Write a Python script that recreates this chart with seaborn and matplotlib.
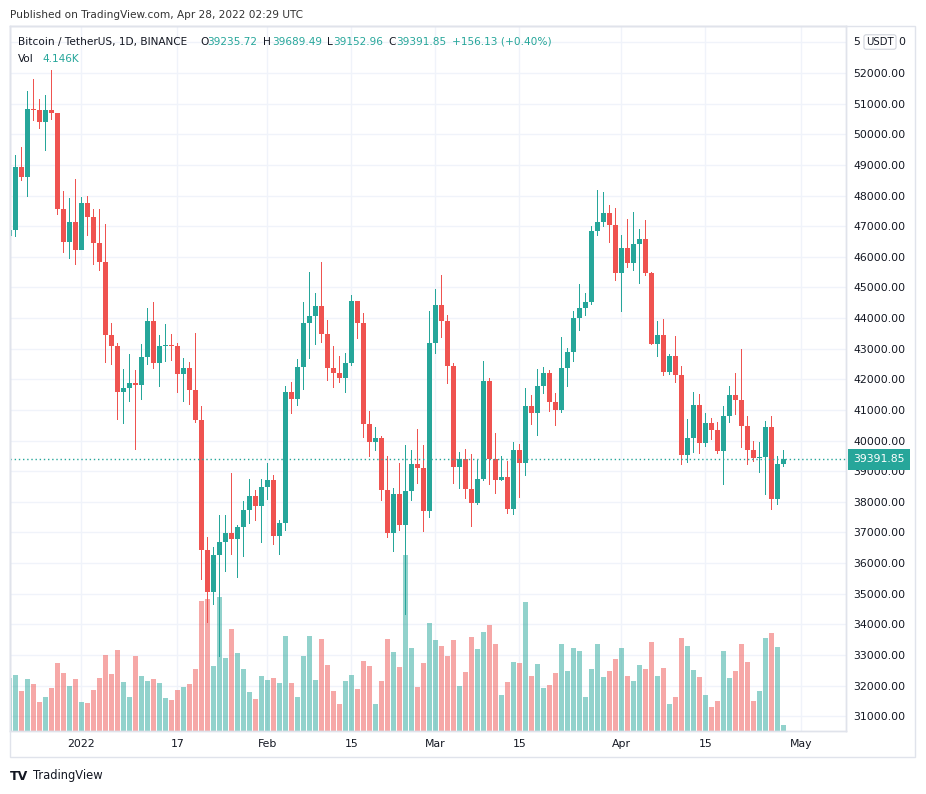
import numpy as np
import pandas as pd
import matplotlib
matplotlib.use("Agg")
import matplotlib.pyplot as plt
import matplotlib.transforms as mtransforms
from matplotlib.patches import Rectangle
import seaborn as sns

# BTC/USDT daily candles, 2021-12-20 .. 2022-04-28
dates = pd.date_range("2021-12-20", "2022-04-28", freq="D")

opens = [46680, 46880, 48920, 48600, 50830, 50800, 50390, 50800, 50680, 47550, 46470, 47150,
         46210, 47740, 47290, 46440, 45820, 43440, 43080, 41580, 41700, 41890, 41830, 42740,
         43900, 42540, 43080, 43110, 43090, 42180, 42370, 41660, 40680, 36440, 35070, 36260,
         36690, 36980, 36800, 37180, 37730, 38190, 37870,
         38480, 38710, 36890, 37320, 41580, 41370, 42400, 43840, 44060, 44390, 43490, 42380,
         42210, 42050, 42530, 44550, 43850, 40530, 39960, 40080, 38400, 36990, 38250, 37250,
         38350, 39230, 39120, 37710,
         43180, 44420, 43890, 42450, 39150, 39400, 38430, 37970, 38730, 41940, 39400, 38720,
         38810, 37780, 39690, 39280, 41130, 40910, 41780, 42200, 41270, 41010, 42370, 42890,
         44000, 44320, 44520, 46840, 47130, 47420, 47040,
         45480, 46280, 45800, 46410, 46580, 45480, 43160, 43450, 42240, 42760, 42150, 39530,
         40090, 41150, 39930, 40560, 40360, 39670, 40790, 41500, 41330, 40480, 39700, 39440,
         39460, 40430, 38100, 39235.72]
highs = [47540, 49330, 49580, 51400, 51810, 51160, 51290, 52110, 50700, 48160, 47930, 48550,
         47960, 48000, 47570, 47570, 47080, 43850, 43180, 42330, 42820, 42300, 43140, 44320,
         44520, 43440, 43800, 43480, 43180, 42690, 42560, 43520, 41130, 36850, 36530, 37570,
         37570, 38940, 37240, 38030, 38740, 38380, 38740,
         39270, 38870, 37420, 41780, 41910, 42660, 44520, 45500, 44810, 45830, 43930, 43080,
         42760, 42860, 44750, 44560, 44160, 40960, 40440, 40150, 39490, 38450, 39270, 39850,
         39690, 40380, 39850, 44230,
         44950, 45400, 44100, 42530, 39620, 39720, 39560, 39360, 42600, 42040, 40240, 39490,
         39330, 39950, 39890, 41710, 41490, 42330, 42400, 42300, 41550, 43380, 43020, 44230,
         45110, 44810, 47000, 48170, 48110, 47680, 47590,
         46710, 47230, 47460, 46900, 47200, 45500, 43900, 43960, 42830, 43410, 42430, 40710,
         41580, 41520, 40890, 40730, 40600, 41120, 41770, 42200, 42980, 40790, 39980, 39940,
         40630, 40790, 39490, 39689.49]
lows = [45560, 46650, 48460, 47940, 50420, 50160, 49440, 50480, 47350, 46110, 45920, 45720,
        46210, 46670, 45720, 45530, 42520, 42460, 40660, 40530, 41250, 39680, 41320, 42460,
        42340, 41760, 42570, 42610, 41560, 41270, 41170, 40580, 35460, 34050, 34640, 32950,
        35720, 36280, 35520, 36190, 37290, 37380, 36670,
        38060, 36600, 36280, 37060, 40880, 41140, 41660, 42670, 43130, 43190, 41950, 41720,
        41890, 41560, 42430, 43320, 40090, 39470, 39670, 38040, 36830, 36370, 37060, 34320,
        38040, 38590, 37020, 37480,
        42820, 43350, 41860, 38590, 38430, 38100, 37190, 37900, 38690, 38560, 38260, 38690,
        37610, 37580, 38130, 38850, 40520, 40160, 41530, 40940, 40480, 40910, 41740, 42570,
        43580, 44070, 44430, 46680, 46980, 46460, 45220,
        44200, 45640, 45540, 45120, 45380, 43130, 42730, 42110, 42150, 41890, 39210, 39270,
        39600, 39570, 39780, 40020, 39560, 38550, 40570, 40840, 39760, 39200, 39300, 38940,
        38220, 37730, 37900, 39152.96]
closes = [46880, 48920, 48600, 50830, 50800, 50390, 50800, 50680, 47550, 46470, 47150, 46210,
          47740, 47290, 46440, 45820, 43440, 43080, 41580, 41700, 41890, 41830, 42740, 43900,
          42540, 43080, 43110, 43090, 42180, 42370, 41660, 40680, 36440, 35070, 36260, 36690,
          36980, 36800, 37180, 37730, 38190, 37870, 38480,
          38710, 36890, 37320, 41580, 41370, 42400, 43840, 44060, 44390, 43490, 42380, 42210,
          42050, 42530, 44550, 43850, 40530, 39960, 40080, 38400, 36990, 38250, 37250, 38350,
          39230, 39120, 37710, 43180,
          44420, 43890, 42450, 39150, 39400, 38430, 37970, 38730, 41940, 39400, 38720, 38810,
          37780, 39690, 39280, 41130, 40910, 41780, 42200, 41270, 41010, 42370, 42890, 44000,
          44320, 44520, 46840, 47130, 47420, 47040, 45480,
          46280, 45800, 46410, 46580, 45480, 43160, 43450, 42240, 42760, 42150, 39530, 40090,
          41150, 39930, 40560, 40360, 39670, 40790, 41500, 41330, 40480, 39700, 39440, 39460,
          40430, 38100, 39235.72, 39391.85]
# volume in thousands of BTC
volumes_k = [34.5, 36.4, 26.0, 33.8, 30.6, 18.9, 22.1, 28.0, 44.2, 37.7, 29.3, 33.8,
             18.9, 18.2, 26.7, 34.5, 49.4, 37.1, 52.7, 31.9, 22.1, 48.8, 35.8, 32.5, 33.8,
             31.2, 21.5, 20.2, 26.7, 28.6, 30.6, 40.3, 84.5, 85.8, 42.3, 87.1, 47.5, 66.3,
             50.7, 40.3, 25.4, 20.8, 35.8,
             33.2, 34.5, 31.2, 61.8, 31.2, 22.1, 48.8, 61.8, 33.2, 59.8, 42.9, 26.0, 17.6,
             32.5, 36.4, 27.3, 45.5, 42.3, 17.6, 32.5, 59.8, 51.4, 41.6, 114.4, 54.0, 28.6,
             44.2, 70.2,
             59.2, 55.3, 48.8, 59.2, 29.3, 38.4, 61.1, 53.3, 64.4, 68.9, 56.6, 23.4, 31.9,
             44.9, 44.2, 83.9, 35.8, 43.6, 28.0, 29.9, 37.7, 56.6, 39.0, 54.0, 52.0, 22.1,
             40.3, 56.6, 35.1, 39.0, 46.8,
             54.0, 35.8, 32.5, 42.9, 40.3, 57.9, 35.8, 41.0, 17.6, 22.1, 60.5, 55.3, 39.7,
             35.1, 23.4, 15.6, 19.5, 52.0, 34.5, 39.0, 56.6, 44.9, 19.5, 26.0, 60.5, 63.7,
             54.6, 4.146]

tick_dates = ["2022-01-01", "2022-01-17", "2022-02-01", "2022-02-15", "2022-03-01",
              "2022-03-15", "2022-04-01", "2022-04-15", "2022-05-01"]
tick_labels = ["2022", "17", "Feb", "15", "Mar", "15", "Apr", "15", "May"]
price_grid = list(range(31000, 54000, 1000))
price_labels = list(range(31000, 53000, 1000))  # 53000 sits under the USDT badge

UP = "#26A69A"
DOWN = "#EF5350"
TXT = "#131722"

df = pd.DataFrame({"date": dates, "open": opens, "high": highs, "low": lows,
                   "close": closes, "volume": volumes_k})
df["day"] = (df["date"] - dates[0]).dt.days
df["dir"] = np.where(df["close"] >= df["open"], "up", "down")
colors = df["dir"].map({"up": UP, "down": DOWN})

sns.set_theme(style="white")
plt.rcParams["font.family"] = ["DejaVu Sans"]

W, H = 926, 794
fig = plt.figure(figsize=(W / 100, H / 100), dpi=100)


def rect(x0, y0, x1, y1):
    return [x0 / W, 1 - y1 / H, (x1 - x0) / W, (y1 - y0) / H]


def ftxt(x, y, s, color=TXT, ha="left", **kw):
    fig.text(x / W, 1 - y / H, s, color=color, va="center", ha=ha, **kw)


ax_vol = fig.add_axes(rect(10, 26, 846, 731))
ax = ax_vol.twinx()

YLO, YHI = 30518, 53534
VTOP = 458

# volume underneath
sns.barplot(data=df, x="day", y="volume", hue="dir", palette={"up": UP, "down": DOWN},
            native_scale=True, dodge=False, width=0.8, errorbar=None, legend=False,
            saturation=1, alpha=0.5, linewidth=0, ax=ax_vol)

# candles: thin wicks, then bodies
ax.bar(df["day"], df["high"] - df["low"], bottom=df["low"], width=0.2, color=colors,
       linewidth=0)
body_lo = np.minimum(df["open"], df["close"])
body_h = np.maximum((df["close"] - df["open"]).abs(), 30)
ax.bar(df["day"], body_h, bottom=body_lo, width=0.78, color=colors, linewidth=0)
ax.axhline(closes[-1], color=UP, lw=1, ls=(0, (1, 2)))

ax_vol.set_xlim(0.117, 139.45)
ax_vol.set_ylim(0, VTOP)
ax.set_ylim(YLO, YHI)

tick_pos = [(pd.Timestamp(d) - dates[0]).days for d in tick_dates]
ax_vol.set_xticks(tick_pos, tick_labels)
ax_vol.set_yticks([(p - YLO) / (YHI - YLO) * VTOP for p in price_grid], [])
ax_vol.grid(True, color="#F0F3FA", lw=1)
ax_vol.set_xlabel("")
ax_vol.set_ylabel("")
ax_vol.tick_params(axis="x", length=0, pad=6, labelsize=7.8, colors=TXT)
ax_vol.tick_params(axis="y", length=0, left=False, labelleft=False)

ax.set_yticks(price_labels, [f"{p:.2f}" for p in price_labels])
ax.grid(False)
ax.tick_params(axis="y", length=0, pad=5, labelsize=7.8, colors=TXT)
ax.tick_params(axis="x", bottom=False, labelbottom=False)

for a in (ax, ax_vol):
    for sp in a.spines.values():
        sp.set_color("#E0E3EB")
        sp.set_linewidth(1)

fig.add_artist(Rectangle((10 / W, 1 - 757 / H), 905 / W, 731 / H, transform=fig.transFigure,
                         fill=False, ec="#E0E3EB", lw=1))

# last price tag
blend = mtransforms.blended_transform_factory(ax.transAxes, ax.transData)
ax.text(1 + 7 / 836, closes[-1], f"{closes[-1]:.2f}", transform=blend, ha="left", va="center",
        color="white", fontsize=7.8, clip_on=False, zorder=10,
        bbox=dict(boxstyle="square,pad=0.5", fc=UP, ec="none"))

# currency badge over the top price label
ftxt(853, 42, "5", fontsize=7.8)
ftxt(905, 42, "0", fontsize=7.8, ha="right")
fig.text(880 / W, 1 - 42 / H, "USDT", ha="center", va="center", fontsize=7.3, color=TXT,
         bbox=dict(boxstyle="round,pad=0.22", fc="white", ec="#D1D4DC", lw=0.8))

# header
ftxt(10, 15, "Published on TradingView.com, Apr 28, 2022 02:29 UTC", fontsize=7.6, color="#333333")
ftxt(18, 42, "Bitcoin / TetherUS, 1D, BINANCE", fontsize=7.6)
chg = closes[-1] - closes[-2]
pieces = [(200, "O", TXT), (207, f"{opens[-1]:.2f}", UP), (263, "H", TXT), (272, f"{highs[-1]:.2f}", UP),
          (327, "L", TXT), (333, f"{lows[-1]:.2f}", UP), (388, "C", TXT), (396, f"{closes[-1]:.2f}", UP),
          (452, f"+{chg:.2f} (+{chg / closes[-2] * 100:.2f}%)", UP)]
for x, s, c in pieces:
    ftxt(x, 42, s, color=c, fontsize=7.6)
ftxt(18, 59, "Vol", fontsize=7.6)
ftxt(42, 59, f"{volumes_k[-1]:.3f}K", color=UP, fontsize=7.6)

# footer
ftxt(10, 776, "TV", fontsize=9, fontweight="heavy")
ftxt(33, 776, "TradingView", fontsize=8.3)

fig.savefig("out.png", dpi=100)
